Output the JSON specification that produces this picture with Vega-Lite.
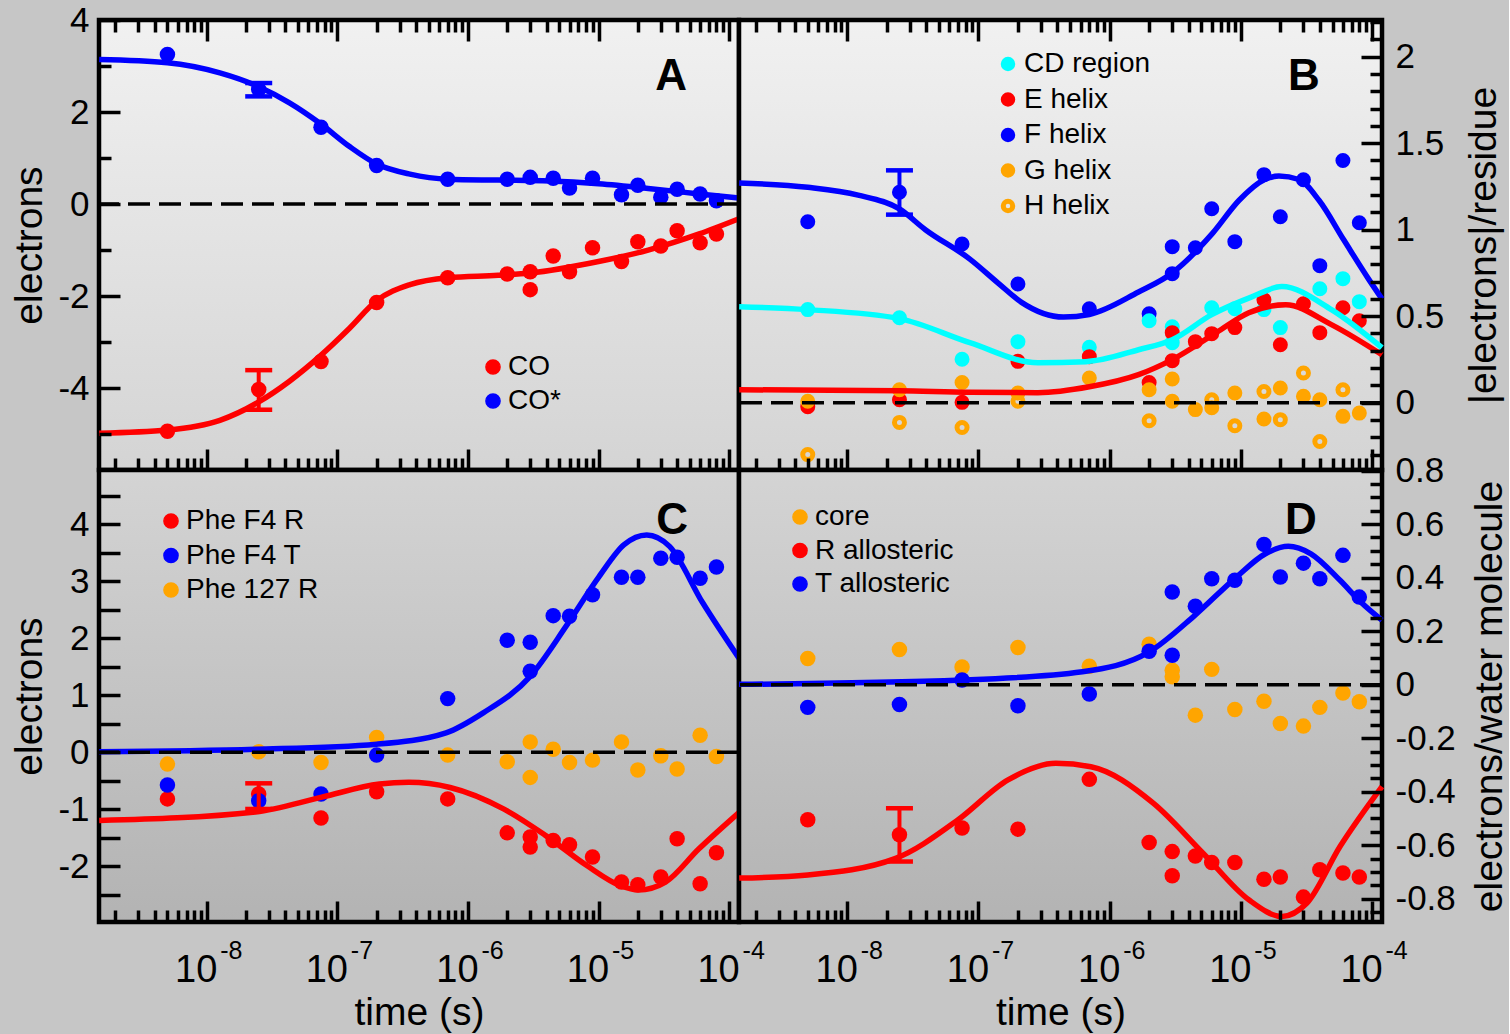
{
"$schema":"https://vega.github.io/schema/vega-lite/v6.json",
"background":"#c6c6c6",
"padding":{"left":10,"top":3,"right":0,"bottom":2},
"config":{"view":{"stroke":null},"font":"Liberation Sans","axis":{"domain":false,"grid":false,"tickColor":"black","tickWidth":3.5,"labelColor":"black","titleColor":"black","titleFontWeight":"normal","labelOverlap":false,"labelFlush":false,"labelBound":false},"legend":{"labelColor":"black"}},
"datasets":{
"A_pts":[
{"t":5e-9,"v":-4.94,"s":"CO"},{"t":2.5e-8,"v":-4.03,"s":"CO"},{"t":7.5e-8,"v":-3.42,"s":"CO"},{"t":2e-7,"v":-2.14,"s":"CO"},{"t":7e-7,"v":-1.6,"s":"CO"},{"t":2e-6,"v":-1.52,"s":"CO"},{"t":3e-6,"v":-1.47,"s":"CO"},{"t":3e-6,"v":-1.86,"s":"CO"},{"t":4.5e-6,"v":-1.13,"s":"CO"},{"t":6e-6,"v":-1.47,"s":"CO"},{"t":9e-6,"v":-0.95,"s":"CO"},{"t":1.5e-5,"v":-1.25,"s":"CO"},{"t":2e-5,"v":-0.82,"s":"CO"},{"t":3e-5,"v":-0.91,"s":"CO"},{"t":4e-5,"v":-0.58,"s":"CO"},{"t":6e-5,"v":-0.84,"s":"CO"},{"t":8e-5,"v":-0.65,"s":"CO"},
{"t":5e-9,"v":3.25,"s":"CO*"},{"t":2.5e-8,"v":2.49,"s":"CO*"},{"t":7.5e-8,"v":1.67,"s":"CO*"},{"t":2e-7,"v":0.84,"s":"CO*"},{"t":7e-7,"v":0.54,"s":"CO*"},{"t":2e-6,"v":0.54,"s":"CO*"},{"t":3e-6,"v":0.58,"s":"CO*"},{"t":4.5e-6,"v":0.56,"s":"CO*"},{"t":6e-6,"v":0.35,"s":"CO*"},{"t":9e-6,"v":0.56,"s":"CO*"},{"t":1.5e-5,"v":0.2,"s":"CO*"},{"t":2e-5,"v":0.41,"s":"CO*"},{"t":3e-5,"v":0.15,"s":"CO*"},{"t":4e-5,"v":0.32,"s":"CO*"},{"t":6e-5,"v":0.22,"s":"CO*"},{"t":8e-5,"v":0.07,"s":"CO*"}],
"A_fit":[
{"t":1.5e-9,"v":3.14,"s":"CO*"},{"t":5e-9,"v":3.07,"s":"CO*"},{"t":1.26e-8,"v":2.85,"s":"CO*"},{"t":2.5e-8,"v":2.55,"s":"CO*"},{"t":4.3e-8,"v":2.2,"s":"CO*"},{"t":7.4e-8,"v":1.75,"s":"CO*"},{"t":1.24e-7,"v":1.25,"s":"CO*"},{"t":2e-7,"v":0.87,"s":"CO*"},{"t":3.6e-7,"v":0.65,"s":"CO*"},{"t":7.1e-7,"v":0.54,"s":"CO*"},{"t":1.7e-6,"v":0.52,"s":"CO*"},{"t":4.2e-6,"v":0.5,"s":"CO*"},{"t":1e-5,"v":0.44,"s":"CO*"},{"t":2.4e-5,"v":0.34,"s":"CO*"},{"t":5.9e-5,"v":0.22,"s":"CO*"},{"t":1.19e-4,"v":0.13,"s":"CO*"},
{"t":1.5e-9,"v":-4.98,"s":"CO"},{"t":5e-9,"v":-4.91,"s":"CO"},{"t":1.26e-8,"v":-4.7,"s":"CO"},{"t":2.5e-8,"v":-4.3,"s":"CO"},{"t":4.3e-8,"v":-3.85,"s":"CO"},{"t":7.4e-8,"v":-3.3,"s":"CO"},{"t":1.24e-7,"v":-2.7,"s":"CO"},{"t":2e-7,"v":-2.1,"s":"CO"},{"t":3.6e-7,"v":-1.75,"s":"CO"},{"t":7.1e-7,"v":-1.6,"s":"CO"},{"t":1.7e-6,"v":-1.55,"s":"CO"},{"t":3e-6,"v":-1.5,"s":"CO"},{"t":1e-5,"v":-1.25,"s":"CO"},{"t":2.4e-5,"v":-1.0,"s":"CO"},{"t":5.9e-5,"v":-0.65,"s":"CO"},{"t":1.19e-4,"v":-0.32,"s":"CO"}],
"A_err":[{"t":2.5e-8,"lo":-4.47,"hi":-3.61,"s":"CO"},{"t":2.5e-8,"lo":2.34,"hi":2.63,"s":"CO*"}],
"B_pts":[
{"t":5e-9,"v":1.046,"s":"F helix"},{"t":2.5e-8,"v":1.216,"s":"F helix"},{"t":7.5e-8,"v":0.917,"s":"F helix"},{"t":2e-7,"v":0.686,"s":"F helix"},{"t":7e-7,"v":0.543,"s":"F helix"},{"t":2e-6,"v":0.514,"s":"F helix"},{"t":3e-6,"v":0.902,"s":"F helix"},{"t":3e-6,"v":0.746,"s":"F helix"},{"t":4.5e-6,"v":0.896,"s":"F helix"},{"t":6e-6,"v":1.121,"s":"F helix"},{"t":9e-6,"v":0.931,"s":"F helix"},{"t":1.5e-5,"v":1.318,"s":"F helix"},{"t":2e-5,"v":1.075,"s":"F helix"},{"t":3e-5,"v":1.289,"s":"F helix"},{"t":4e-5,"v":0.792,"s":"F helix"},{"t":6e-5,"v":1.4,"s":"F helix"},{"t":8e-5,"v":1.04,"s":"F helix"},
{"t":5e-9,"v":0.538,"s":"CD region"},{"t":2.5e-8,"v":0.491,"s":"CD region"},{"t":7.5e-8,"v":0.251,"s":"CD region"},{"t":2e-7,"v":0.353,"s":"CD region"},{"t":7e-7,"v":0.32,"s":"CD region"},{"t":2e-6,"v":0.474,"s":"CD region"},{"t":3e-6,"v":0.439,"s":"CD region"},{"t":3e-6,"v":0.347,"s":"CD region"},{"t":6e-6,"v":0.549,"s":"CD region"},{"t":9e-6,"v":0.543,"s":"CD region"},{"t":1.5e-5,"v":0.538,"s":"CD region"},{"t":2e-5,"v":0.434,"s":"CD region"},{"t":4e-5,"v":0.659,"s":"CD region"},{"t":6e-5,"v":0.717,"s":"CD region"},{"t":8e-5,"v":0.584,"s":"CD region"},
{"t":5e-9,"v":-0.023,"s":"E helix"},{"t":2.5e-8,"v":0.017,"s":"E helix"},{"t":7.5e-8,"v":0.002,"s":"E helix"},{"t":2e-7,"v":0.239,"s":"E helix"},{"t":7e-7,"v":0.266,"s":"E helix"},{"t":2e-6,"v":0.117,"s":"E helix"},{"t":3e-6,"v":0.405,"s":"E helix"},{"t":3e-6,"v":0.243,"s":"E helix"},{"t":4.5e-6,"v":0.353,"s":"E helix"},{"t":6e-6,"v":0.399,"s":"E helix"},{"t":9e-6,"v":0.434,"s":"E helix"},{"t":1.5e-5,"v":0.595,"s":"E helix"},{"t":2e-5,"v":0.335,"s":"E helix"},{"t":3e-5,"v":0.572,"s":"E helix"},{"t":4e-5,"v":0.405,"s":"E helix"},{"t":6e-5,"v":0.549,"s":"E helix"},{"t":8e-5,"v":0.474,"s":"E helix"},
{"t":5e-9,"v":0.008,"s":"G helix"},{"t":2.5e-8,"v":0.075,"s":"G helix"},{"t":7.5e-8,"v":0.117,"s":"G helix"},{"t":2e-7,"v":0.056,"s":"G helix"},{"t":7e-7,"v":0.143,"s":"G helix"},{"t":2e-6,"v":0.075,"s":"G helix"},{"t":3e-6,"v":0.137,"s":"G helix"},{"t":3e-6,"v":0.008,"s":"G helix"},{"t":4.5e-6,"v":-0.04,"s":"G helix"},{"t":6e-6,"v":-0.029,"s":"G helix"},{"t":9e-6,"v":0.056,"s":"G helix"},{"t":1.5e-5,"v":-0.094,"s":"G helix"},{"t":2e-5,"v":0.085,"s":"G helix"},{"t":3e-5,"v":0.037,"s":"G helix"},{"t":4e-5,"v":0.017,"s":"G helix"},{"t":6e-5,"v":-0.079,"s":"G helix"},{"t":8e-5,"v":-0.06,"s":"G helix"},
{"t":5e-9,"v":-0.3,"s":"H helix"},{"t":2.5e-8,"v":-0.114,"s":"H helix"},{"t":7.5e-8,"v":-0.143,"s":"H helix"},{"t":2e-7,"v":0.008,"s":"H helix"},{"t":2e-6,"v":-0.104,"s":"H helix"},{"t":6e-6,"v":0.017,"s":"H helix"},{"t":9e-6,"v":-0.133,"s":"H helix"},{"t":1.5e-5,"v":0.065,"s":"H helix"},{"t":2e-5,"v":-0.098,"s":"H helix"},{"t":3e-5,"v":0.172,"s":"H helix"},{"t":4e-5,"v":-0.224,"s":"H helix"},{"t":6e-5,"v":0.075,"s":"H helix"}],
"B_fit":[
{"t":1.5e-9,"v":1.27,"s":"F helix"},{"t":5e-9,"v":1.245,"s":"F helix"},{"t":1.21e-8,"v":1.2,"s":"F helix"},{"t":2.5e-8,"v":1.12,"s":"F helix"},{"t":3.94e-8,"v":1.0,"s":"F helix"},{"t":8.6e-8,"v":0.83,"s":"F helix"},{"t":1.42e-7,"v":0.69,"s":"F helix"},{"t":2.13e-7,"v":0.58,"s":"F helix"},{"t":4.45e-7,"v":0.495,"s":"F helix"},{"t":7e-7,"v":0.51,"s":"F helix"},{"t":1.66e-6,"v":0.64,"s":"F helix"},{"t":3e-6,"v":0.75,"s":"F helix"},{"t":6.1e-6,"v":0.98,"s":"F helix"},{"t":9.7e-6,"v":1.17,"s":"F helix"},{"t":1.52e-5,"v":1.29,"s":"F helix"},{"t":1.95e-5,"v":1.31,"s":"F helix"},{"t":2.77e-5,"v":1.29,"s":"F helix"},{"t":3.94e-5,"v":1.17,"s":"F helix"},{"t":6.1e-5,"v":0.94,"s":"F helix"},{"t":9.5e-5,"v":0.71,"s":"F helix"},{"t":1.19e-4,"v":0.6,"s":"F helix"},
{"t":1.5e-9,"v":0.555,"s":"CD region"},{"t":5e-9,"v":0.538,"s":"CD region"},{"t":2.5e-8,"v":0.486,"s":"CD region"},{"t":8.6e-8,"v":0.347,"s":"CD region"},{"t":2.84e-7,"v":0.231,"s":"CD region"},{"t":6.6e-7,"v":0.237,"s":"CD region"},{"t":1.66e-6,"v":0.306,"s":"CD region"},{"t":3e-6,"v":0.364,"s":"CD region"},{"t":6e-6,"v":0.509,"s":"CD region"},{"t":1.2e-5,"v":0.61,"s":"CD region"},{"t":2.05e-5,"v":0.671,"s":"CD region"},{"t":4.9e-5,"v":0.538,"s":"CD region"},{"t":1.19e-4,"v":0.318,"s":"CD region"},
{"t":1.5e-9,"v":0.075,"s":"E helix"},{"t":2.5e-8,"v":0.069,"s":"E helix"},{"t":8.6e-8,"v":0.06,"s":"E helix"},{"t":2.84e-7,"v":0.058,"s":"E helix"},{"t":7e-7,"v":0.092,"s":"E helix"},{"t":1.66e-6,"v":0.162,"s":"E helix"},{"t":3e-6,"v":0.249,"s":"E helix"},{"t":6.5e-6,"v":0.405,"s":"E helix"},{"t":1.15e-5,"v":0.52,"s":"E helix"},{"t":2.2e-5,"v":0.566,"s":"E helix"},{"t":4.9e-5,"v":0.451,"s":"E helix"},{"t":1.19e-4,"v":0.277,"s":"E helix"}],
"B_err":[{"t":2.5e-8,"lo":1.087,"hi":1.343}],
"C_pts":[
{"t":5e-9,"v":-0.82,"s":"Phe F4 R"},{"t":2.5e-8,"v":-0.734,"s":"Phe F4 R"},{"t":7.5e-8,"v":-1.154,"s":"Phe F4 R"},{"t":2e-7,"v":-0.694,"s":"Phe F4 R"},{"t":7e-7,"v":-0.82,"s":"Phe F4 R"},{"t":2e-6,"v":-1.416,"s":"Phe F4 R"},{"t":3e-6,"v":-1.49,"s":"Phe F4 R"},{"t":3e-6,"v":-1.666,"s":"Phe F4 R"},{"t":4.5e-6,"v":-1.55,"s":"Phe F4 R"},{"t":6e-6,"v":-1.626,"s":"Phe F4 R"},{"t":9e-6,"v":-1.84,"s":"Phe F4 R"},{"t":1.5e-5,"v":-2.28,"s":"Phe F4 R"},{"t":2e-5,"v":-2.325,"s":"Phe F4 R"},{"t":3e-5,"v":-2.19,"s":"Phe F4 R"},{"t":4e-5,"v":-1.52,"s":"Phe F4 R"},{"t":6e-5,"v":-2.31,"s":"Phe F4 R"},{"t":8e-5,"v":-1.766,"s":"Phe F4 R"},
{"t":5e-9,"v":-0.577,"s":"Phe F4 T"},{"t":2.5e-8,"v":-0.851,"s":"Phe F4 T"},{"t":7.5e-8,"v":-0.734,"s":"Phe F4 T"},{"t":2e-7,"v":-0.052,"s":"Phe F4 T"},{"t":7e-7,"v":0.939,"s":"Phe F4 T"},{"t":2e-6,"v":1.963,"s":"Phe F4 T"},{"t":3e-6,"v":1.929,"s":"Phe F4 T"},{"t":3e-6,"v":1.421,"s":"Phe F4 T"},{"t":4.5e-6,"v":2.395,"s":"Phe F4 T"},{"t":6e-6,"v":2.383,"s":"Phe F4 T"},{"t":9e-6,"v":2.762,"s":"Phe F4 T"},{"t":1.5e-5,"v":3.07,"s":"Phe F4 T"},{"t":2e-5,"v":3.07,"s":"Phe F4 T"},{"t":3e-5,"v":3.4,"s":"Phe F4 T"},{"t":4e-5,"v":3.42,"s":"Phe F4 T"},{"t":6e-5,"v":3.05,"s":"Phe F4 T"},{"t":8e-5,"v":3.25,"s":"Phe F4 T"},
{"t":5e-9,"v":-0.21,"s":"Phe 127 R"},{"t":2.5e-8,"v":0.006,"s":"Phe 127 R"},{"t":7.5e-8,"v":-0.18,"s":"Phe 127 R"},{"t":2e-7,"v":0.257,"s":"Phe 127 R"},{"t":7e-7,"v":-0.052,"s":"Phe 127 R"},{"t":2e-6,"v":-0.17,"s":"Phe 127 R"},{"t":3e-6,"v":0.18,"s":"Phe 127 R"},{"t":3e-6,"v":-0.443,"s":"Phe 127 R"},{"t":4.5e-6,"v":0.052,"s":"Phe 127 R"},{"t":6e-6,"v":-0.18,"s":"Phe 127 R"},{"t":9e-6,"v":-0.14,"s":"Phe 127 R"},{"t":1.5e-5,"v":0.18,"s":"Phe 127 R"},{"t":2e-5,"v":-0.315,"s":"Phe 127 R"},{"t":3e-5,"v":-0.064,"s":"Phe 127 R"},{"t":4e-5,"v":-0.297,"s":"Phe 127 R"},{"t":6e-5,"v":0.297,"s":"Phe 127 R"},{"t":8e-5,"v":-0.076,"s":"Phe 127 R"}],
"C_fit":[
{"t":1.5e-9,"v":0.005,"s":"Phe F4 T"},{"t":2.36e-8,"v":0.05,"s":"Phe F4 T"},{"t":2e-7,"v":0.14,"s":"Phe F4 T"},{"t":6.8e-7,"v":0.34,"s":"Phe F4 T"},{"t":1.31e-6,"v":0.69,"s":"Phe F4 T"},{"t":3e-6,"v":1.33,"s":"Phe F4 T"},{"t":5.65e-6,"v":2.21,"s":"Phe F4 T"},{"t":1.01e-5,"v":3.08,"s":"Phe F4 T"},{"t":1.57e-5,"v":3.64,"s":"Phe F4 T"},{"t":2.34e-5,"v":3.81,"s":"Phe F4 T"},{"t":3.5e-5,"v":3.61,"s":"Phe F4 T"},{"t":6.28e-5,"v":2.62,"s":"Phe F4 T"},{"t":1.19e-4,"v":1.65,"s":"Phe F4 T"},
{"t":1.5e-9,"v":-1.2,"s":"Phe F4 R"},{"t":2.36e-8,"v":-1.05,"s":"Phe F4 R"},{"t":7.6e-8,"v":-0.79,"s":"Phe F4 R"},{"t":2.1e-7,"v":-0.56,"s":"Phe F4 R"},{"t":3.52e-7,"v":-0.53,"s":"Phe F4 R"},{"t":7.3e-7,"v":-0.62,"s":"Phe F4 R"},{"t":1.89e-6,"v":-1.0,"s":"Phe F4 R"},{"t":3.92e-6,"v":-1.46,"s":"Phe F4 R"},{"t":8.13e-6,"v":-1.99,"s":"Phe F4 R"},{"t":1.46e-5,"v":-2.34,"s":"Phe F4 R"},{"t":2.02e-5,"v":-2.42,"s":"Phe F4 R"},{"t":3.26e-5,"v":-2.28,"s":"Phe F4 R"},{"t":5.85e-5,"v":-1.7,"s":"Phe F4 R"},{"t":1.19e-4,"v":-1.06,"s":"Phe F4 R"}],
"C_err":[{"t":2.5e-8,"lo":-0.997,"hi":-0.547}],
"D_pts":[
{"t":5e-9,"v":0.098,"s":"core"},{"t":2.5e-8,"v":0.131,"s":"core"},{"t":7.5e-8,"v":0.066,"s":"core"},{"t":2e-7,"v":0.139,"s":"core"},{"t":7e-7,"v":0.069,"s":"core"},{"t":2e-6,"v":0.151,"s":"core"},{"t":3e-6,"v":0.054,"s":"core"},{"t":3e-6,"v":0.029,"s":"core"},{"t":4.5e-6,"v":-0.114,"s":"core"},{"t":6e-6,"v":0.057,"s":"core"},{"t":9e-6,"v":-0.093,"s":"core"},{"t":1.5e-5,"v":-0.062,"s":"core"},{"t":2e-5,"v":-0.145,"s":"core"},{"t":3e-5,"v":-0.155,"s":"core"},{"t":4e-5,"v":-0.085,"s":"core"},{"t":6e-5,"v":-0.031,"s":"core"},{"t":8e-5,"v":-0.064,"s":"core"},
{"t":5e-9,"v":-0.505,"s":"R allosteric"},{"t":2.5e-8,"v":-0.561,"s":"R allosteric"},{"t":7.5e-8,"v":-0.536,"s":"R allosteric"},{"t":2e-7,"v":-0.54,"s":"R allosteric"},{"t":7e-7,"v":-0.354,"s":"R allosteric"},{"t":2e-6,"v":-0.59,"s":"R allosteric"},{"t":3e-6,"v":-0.624,"s":"R allosteric"},{"t":3e-6,"v":-0.714,"s":"R allosteric"},{"t":4.5e-6,"v":-0.64,"s":"R allosteric"},{"t":6e-6,"v":-0.665,"s":"R allosteric"},{"t":9e-6,"v":-0.665,"s":"R allosteric"},{"t":1.5e-5,"v":-0.727,"s":"R allosteric"},{"t":2e-5,"v":-0.719,"s":"R allosteric"},{"t":3e-5,"v":-0.794,"s":"R allosteric"},{"t":4e-5,"v":-0.692,"s":"R allosteric"},{"t":6e-5,"v":-0.704,"s":"R allosteric"},{"t":8e-5,"v":-0.719,"s":"R allosteric"},
{"t":5e-9,"v":-0.085,"s":"T allosteric"},{"t":2.5e-8,"v":-0.074,"s":"T allosteric"},{"t":7.5e-8,"v":0.017,"s":"T allosteric"},{"t":2e-7,"v":-0.079,"s":"T allosteric"},{"t":7e-7,"v":-0.035,"s":"T allosteric"},{"t":2e-6,"v":0.125,"s":"T allosteric"},{"t":3e-6,"v":0.346,"s":"T allosteric"},{"t":3e-6,"v":0.11,"s":"T allosteric"},{"t":4.5e-6,"v":0.293,"s":"T allosteric"},{"t":6e-6,"v":0.396,"s":"T allosteric"},{"t":9e-6,"v":0.39,"s":"T allosteric"},{"t":1.5e-5,"v":0.524,"s":"T allosteric"},{"t":2e-5,"v":0.402,"s":"T allosteric"},{"t":3e-5,"v":0.454,"s":"T allosteric"},{"t":4e-5,"v":0.396,"s":"T allosteric"},{"t":6e-5,"v":0.483,"s":"T allosteric"},{"t":8e-5,"v":0.327,"s":"T allosteric"}],
"D_fit":[
{"t":1.5e-9,"v":0.001,"s":"T allosteric"},{"t":7.5e-8,"v":0.017,"s":"T allosteric"},{"t":6.2e-7,"v":0.048,"s":"T allosteric"},{"t":2e-6,"v":0.122,"s":"T allosteric"},{"t":4.46e-6,"v":0.259,"s":"T allosteric"},{"t":9.25e-6,"v":0.402,"s":"T allosteric"},{"t":1.54e-5,"v":0.489,"s":"T allosteric"},{"t":2.3e-5,"v":0.517,"s":"T allosteric"},{"t":3.42e-5,"v":0.489,"s":"T allosteric"},{"t":5.7e-5,"v":0.39,"s":"T allosteric"},{"t":8.2e-5,"v":0.309,"s":"T allosteric"},{"t":1.19e-4,"v":0.241,"s":"T allosteric"},
{"t":1.5e-9,"v":-0.723,"s":"R allosteric"},{"t":5e-9,"v":-0.711,"s":"R allosteric"},{"t":2.34e-8,"v":-0.649,"s":"R allosteric"},{"t":7e-8,"v":-0.505,"s":"R allosteric"},{"t":1.68e-7,"v":-0.356,"s":"R allosteric"},{"t":3.89e-7,"v":-0.294,"s":"R allosteric"},{"t":7.2e-7,"v":-0.307,"s":"R allosteric"},{"t":2.15e-6,"v":-0.443,"s":"R allosteric"},{"t":5.15e-6,"v":-0.63,"s":"R allosteric"},{"t":1.15e-5,"v":-0.804,"s":"R allosteric"},{"t":2.06e-5,"v":-0.866,"s":"R allosteric"},{"t":3.19e-5,"v":-0.816,"s":"R allosteric"},{"t":5.7e-5,"v":-0.605,"s":"R allosteric"},{"t":1.19e-4,"v":-0.381,"s":"R allosteric"}],
"D_err":[{"t":2.5e-8,"lo":-0.661,"hi":-0.462}]
},
"columns":2,
"spacing":0,
"bounds":"flush",
"resolve":{"scale":{"color":"independent","fill":"independent","stroke":"independent"}},
"concat":[
{"width":640,"height":450,"data":{"values":[{}]},
"resolve":{"axis":{"x":"independent","y":"independent"}},
"layer":[
{"mark":{"type":"rect","fill":{"gradient":"linear","x1":0,"y1":0,"x2":0,"y2":1,"stops":[{"offset":0,"color":"#f1f1f1"},{"offset":1,"color":"#d4d4d4"}]},"stroke":"black","strokeWidth":4.5},
"encoding":{"x":{"datum":1.496e-9,"type":"quantitative","scale":{"type":"log","domain":[1.496e-9,1.191e-4],"nice":false},"axis":{"orient":"bottom","values":[1e-8,1e-7,1e-6,1e-5,1e-4],"tickSize":-21,"labels":false,"title":null,"zindex":1}},"x2":{"datum":1.191e-4},
"y":{"datum":-5.78,"type":"quantitative","scale":{"domain":[-5.78,4],"nice":false,"zero":false},"axis":{"orient":"left","values":[-4,-2,0,2,4],"ticks":false,"labelExpr":"'' + datum.value","labelFontSize":35,"labelPadding":10,"title":"electrons","titleFontSize":39,"titleX":-70,"titleY":225,"titleAngle":270,"titleBaseline":"middle","titleAlign":"center","zindex":1}},"y2":{"datum":4}}},
{"data":{"name":"A_pts"},"mark":{"type":"point","filled":true,"size":240,"opacity":1,"shape":"circle"},
"encoding":{"x":{"field":"t","type":"quantitative","scale":{"type":"log","domain":[1.496e-9,1.191e-4],"nice":false},"axis":{"orient":"bottom","values":[2e-9,3e-9,4e-9,5e-9,6e-9,7e-9,8e-9,9e-9,2e-8,3e-8,4e-8,5e-8,6e-8,7e-8,8e-8,9e-8,2e-7,3e-7,4e-7,5e-7,6e-7,7e-7,8e-7,9e-7,2e-6,3e-6,4e-6,5e-6,6e-6,7e-6,8e-6,9e-6,2e-5,3e-5,4e-5,5e-5,6e-5,7e-5,8e-5,9e-5],"tickSize":-12,"labels":false,"title":null,"zindex":1}},
"y":{"field":"v","type":"quantitative","scale":{"domain":[-5.78,4],"nice":false,"zero":false},"axis":{"orient":"left","values":[-4,-2,0,2,4],"tickSize":-21,"labels":false,"title":null,"zindex":1}},
"color":{"field":"s","type":"nominal","scale":{"domain":["CO","CO*"],"range":["#ff0000","#0000ff"]},"legend":{"title":null,"orient":"none","legendX":380,"legendY":333,"labelFontSize":28,"symbolSize":200,"rowPadding":6,"labelOffset":1,"padding":0,"symbolType":"circle","symbolOpacity":1}}}},
{"data":{"name":"A_fit"},"mark":{"type":"line","interpolate":"monotone","strokeWidth":5.5},
"encoding":{"x":{"field":"t","type":"quantitative","scale":{"type":"log","domain":[1.496e-9,1.191e-4],"nice":false},"axis":{"orient":"top","values":[1e-8,1e-7,1e-6,1e-5,1e-4],"tickSize":-21,"labels":false,"title":null,"zindex":1}},
"y":{"field":"v","type":"quantitative","scale":{"domain":[-5.78,4],"nice":false,"zero":false},"axis":{"orient":"left","values":[-5,-3,-1,1,3],"tickSize":-12,"labels":false,"title":null,"zindex":1}},
"stroke":{"field":"s","type":"nominal","scale":{"domain":["CO","CO*"],"range":["#ff0000","#0000ff"]},"legend":null}}},
{"mark":{"type":"rule","color":"black","strokeWidth":3.5,"strokeDash":[22,9]},"encoding":{"y":{"datum":0,"type":"quantitative","scale":{"domain":[-5.78,4],"nice":false,"zero":false},"axis":null}}},
{"data":{"name":"A_err"},"mark":{"type":"rule","strokeWidth":4},
"encoding":{"x":{"field":"t","type":"quantitative","scale":{"type":"log","domain":[1.496e-9,1.191e-4],"nice":false},"axis":{"orient":"top","values":[2e-9,3e-9,4e-9,5e-9,6e-9,7e-9,8e-9,9e-9,2e-8,3e-8,4e-8,5e-8,6e-8,7e-8,8e-8,9e-8,2e-7,3e-7,4e-7,5e-7,6e-7,7e-7,8e-7,9e-7,2e-6,3e-6,4e-6,5e-6,6e-6,7e-6,8e-6,9e-6,2e-5,3e-5,4e-5,5e-5,6e-5,7e-5,8e-5,9e-5],"tickSize":-12,"labels":false,"title":null,"zindex":1}},
"y":{"field":"lo","type":"quantitative","scale":{"domain":[-5.78,4],"nice":false,"zero":false},"axis":null},"y2":{"field":"hi"},
"stroke":{"field":"s","type":"nominal","scale":{"domain":["CO","CO*"],"range":["#ff0000","#0000ff"]},"legend":null}}},
{"data":{"name":"A_err"},"transform":[{"fold":["lo","hi"],"as":["k","e"]}],"mark":{"type":"tick","orient":"horizontal","size":27,"thickness":4.5,"opacity":1},
"encoding":{"x":{"field":"t","type":"quantitative","scale":{"type":"log","domain":[1.496e-9,1.191e-4],"nice":false},"axis":null},
"y":{"field":"e","type":"quantitative","scale":{"domain":[-5.78,4],"nice":false,"zero":false},"axis":null},
"fill":{"field":"s","type":"nominal","scale":{"domain":["CO","CO*"],"range":["#ff0000","#0000ff"]},"legend":null}}},
{"mark":{"type":"text","text":"A","fontSize":44,"fontWeight":"bold","align":"center","baseline":"middle","color":"black"},
"encoding":{"x":{"datum":3.6e-5,"type":"quantitative","scale":{"type":"log","domain":[1.496e-9,1.191e-4],"nice":false},"axis":null},"y":{"datum":2.76,"type":"quantitative","scale":{"domain":[-5.78,4],"nice":false,"zero":false},"axis":null}}}
]},
{"width":643,"height":450,"data":{"values":[{}]},
"resolve":{"axis":{"x":"independent","y":"independent"}},
"layer":[
{"mark":{"type":"rect","fill":{"gradient":"linear","x1":0,"y1":0,"x2":0,"y2":1,"stops":[{"offset":0,"color":"#f1f1f1"},{"offset":1,"color":"#d4d4d4"}]},"stroke":"black","strokeWidth":4.5},
"encoding":{"x":{"datum":1.496e-9,"type":"quantitative","scale":{"type":"log","domain":[1.496e-9,1.191e-4],"nice":false},"axis":{"orient":"bottom","values":[1e-8,1e-7,1e-6,1e-5,1e-4],"tickSize":-21,"labels":false,"title":null,"zindex":1}},"x2":{"datum":1.191e-4},
"y":{"datum":-0.389,"type":"quantitative","scale":{"domain":[-0.389,2.212],"nice":false,"zero":false},"axis":{"orient":"right","values":[0,0.5,1,1.5,2],"tickSize":-21,"labels":false,"title":null,"zindex":1}},"y2":{"datum":2.212}}},
{"data":{"name":"B_pts"},"mark":{"type":"point","size":100,"strokeWidth":5,"opacity":1,"shape":"circle"},
"encoding":{"x":{"field":"t","type":"quantitative","scale":{"type":"log","domain":[1.496e-9,1.191e-4],"nice":false},"axis":{"orient":"bottom","values":[2e-9,3e-9,4e-9,5e-9,6e-9,7e-9,8e-9,9e-9,2e-8,3e-8,4e-8,5e-8,6e-8,7e-8,8e-8,9e-8,2e-7,3e-7,4e-7,5e-7,6e-7,7e-7,8e-7,9e-7,2e-6,3e-6,4e-6,5e-6,6e-6,7e-6,8e-6,9e-6,2e-5,3e-5,4e-5,5e-5,6e-5,7e-5,8e-5,9e-5],"tickSize":-12,"labels":false,"title":null,"zindex":1}},
"y":{"field":"v","type":"quantitative","scale":{"domain":[-0.389,2.212],"nice":false,"zero":false},"axis":{"orient":"right","values":[-0.3,-0.2,-0.1,0.1,0.2,0.3,0.4,0.6,0.7,0.8,0.9,1.1,1.2,1.3,1.4,1.6,1.7,1.8,1.9,2.1,2.2],"tickSize":-12,"labels":false,"title":null,"zindex":1}},
"fill":{"field":"s","type":"nominal","scale":{"domain":["CD region","E helix","F helix","G helix","H helix"],"range":["#00ffff","#ff0000","#0000ff","#ffa500","transparent"]},"legend":{"title":null,"orient":"none","legendX":255,"legendY":30,"labelFontSize":28,"symbolSize":90,"symbolStrokeWidth":5,"rowPadding":5.5,"labelOffset":2,"padding":0,"symbolType":"circle","symbolOpacity":1}},
"stroke":{"field":"s","type":"nominal","scale":{"domain":["CD region","E helix","F helix","G helix","H helix"],"range":["#00ffff","#ff0000","#0000ff","#ffa500","#ffa500"]},"legend":{"title":null,"orient":"none","legendX":255,"legendY":30,"labelFontSize":28,"symbolSize":90,"symbolStrokeWidth":5,"rowPadding":5.5,"labelOffset":2,"padding":0,"symbolType":"circle","symbolOpacity":1}}}},
{"data":{"name":"B_fit"},"mark":{"type":"line","interpolate":"monotone","strokeWidth":5.5},
"encoding":{"x":{"field":"t","type":"quantitative","scale":{"type":"log","domain":[1.496e-9,1.191e-4],"nice":false},"axis":{"orient":"top","values":[1e-8,1e-7,1e-6,1e-5,1e-4],"tickSize":-21,"labels":false,"title":null,"zindex":1}},
"y":{"field":"v","type":"quantitative","scale":{"domain":[-0.389,2.212],"nice":false,"zero":false},"axis":{"orient":"right","values":[0,0.5,1,1.5,2],"ticks":false,"labelExpr":"'' + datum.value","labelFontSize":35,"labelPadding":13,"labelAlign":"left","title":"|electrons|/residue","titleFontSize":39,"titleX":101,"titleY":225,"titleAngle":270,"titleBaseline":"middle","titleAlign":"center","zindex":1}},
"color":{"field":"s","type":"nominal","scale":{"domain":["CD region","E helix","F helix"],"range":["#00ffff","#ff0000","#0000ff"]},"legend":null}}},
{"mark":{"type":"rule","color":"black","strokeWidth":3.5,"strokeDash":[22,9]},"encoding":{"y":{"datum":0,"type":"quantitative","scale":{"domain":[-0.389,2.212],"nice":false,"zero":false},"axis":null}}},
{"data":{"name":"B_err"},"mark":{"type":"rule","strokeWidth":4,"color":"#0000ff"},
"encoding":{"x":{"field":"t","type":"quantitative","scale":{"type":"log","domain":[1.496e-9,1.191e-4],"nice":false},"axis":{"orient":"top","values":[2e-9,3e-9,4e-9,5e-9,6e-9,7e-9,8e-9,9e-9,2e-8,3e-8,4e-8,5e-8,6e-8,7e-8,8e-8,9e-8,2e-7,3e-7,4e-7,5e-7,6e-7,7e-7,8e-7,9e-7,2e-6,3e-6,4e-6,5e-6,6e-6,7e-6,8e-6,9e-6,2e-5,3e-5,4e-5,5e-5,6e-5,7e-5,8e-5,9e-5],"tickSize":-12,"labels":false,"title":null,"zindex":1}},
"y":{"field":"lo","type":"quantitative","scale":{"domain":[-0.389,2.212],"nice":false,"zero":false},"axis":null},"y2":{"field":"hi"}}},
{"data":{"name":"B_err"},"transform":[{"fold":["lo","hi"],"as":["k","e"]}],"mark":{"type":"tick","orient":"horizontal","size":27,"thickness":4.5,"opacity":1,"color":"#0000ff"},
"encoding":{"x":{"field":"t","type":"quantitative","scale":{"type":"log","domain":[1.496e-9,1.191e-4],"nice":false},"axis":null},
"y":{"field":"e","type":"quantitative","scale":{"domain":[-0.389,2.212],"nice":false,"zero":false},"axis":null}}},
{"mark":{"type":"text","text":"B","fontSize":44,"fontWeight":"bold","align":"center","baseline":"middle","color":"black"},
"encoding":{"x":{"datum":3.03e-5,"type":"quantitative","scale":{"type":"log","domain":[1.496e-9,1.191e-4],"nice":false},"axis":null},"y":{"datum":1.883,"type":"quantitative","scale":{"domain":[-0.389,2.212],"nice":false,"zero":false},"axis":null}}}
]},
{"width":640,"height":452,"data":{"values":[{}]},
"resolve":{"axis":{"x":"independent","y":"independent"}},
"layer":[
{"mark":{"type":"rect","fill":{"gradient":"linear","x1":0,"y1":0,"x2":0,"y2":1,"stops":[{"offset":0,"color":"#d4d4d4"},{"offset":1,"color":"#b3b3b3"}]},"stroke":"black","strokeWidth":4.5},
"encoding":{"x":{"datum":1.496e-9,"type":"quantitative","scale":{"type":"log","domain":[1.496e-9,1.191e-4],"nice":false},"axis":{"orient":"bottom","values":[1e-8,1e-7,1e-6,1e-5,1e-4],"tickSize":-21,"labels":false,"title":null,"zindex":1}},"x2":{"datum":1.191e-4},
"y":{"datum":-2.98,"type":"quantitative","scale":{"domain":[-2.98,4.95],"nice":false,"zero":false},"axis":{"orient":"left","values":[-3,-2.5,-2,-1.5,-1,-0.5,0,0.5,1,1.5,2,2.5,3,3.5,4,4.5],"tickSize":-21,"labels":false,"title":null,"zindex":1}},"y2":{"datum":4.95}}},
{"data":{"name":"C_pts"},"mark":{"type":"point","filled":true,"size":240,"opacity":1,"shape":"circle"},
"encoding":{"x":{"field":"t","type":"quantitative","scale":{"type":"log","domain":[1.496e-9,1.191e-4],"nice":false},"axis":{"orient":"bottom","values":[2e-9,3e-9,4e-9,5e-9,6e-9,7e-9,8e-9,9e-9,2e-8,3e-8,4e-8,5e-8,6e-8,7e-8,8e-8,9e-8,2e-7,3e-7,4e-7,5e-7,6e-7,7e-7,8e-7,9e-7,2e-6,3e-6,4e-6,5e-6,6e-6,7e-6,8e-6,9e-6,2e-5,3e-5,4e-5,5e-5,6e-5,7e-5,8e-5,9e-5],"tickSize":-12,"labels":false,"title":null,"zindex":1}},
"y":{"field":"v","type":"quantitative","scale":{"domain":[-2.98,4.95],"nice":false,"zero":false},"axis":{"orient":"left","values":[-3,-2,-1,0,1,2,3,4],"ticks":false,"labelExpr":"'' + datum.value","labelFontSize":35,"labelPadding":10,"title":"electrons","titleFontSize":39,"titleX":-70,"titleY":226,"titleAngle":270,"titleBaseline":"middle","titleAlign":"center","zindex":1}},
"color":{"field":"s","type":"nominal","scale":{"domain":["Phe F4 R","Phe F4 T","Phe 127 R"],"range":["#ff0000","#0000ff","#ffa500"]},"legend":{"title":null,"orient":"none","legendX":58,"legendY":37,"labelFontSize":28,"symbolSize":200,"rowPadding":6.5,"labelOffset":1,"padding":0,"symbolType":"circle","symbolOpacity":1}}}},
{"data":{"name":"C_fit"},"mark":{"type":"line","interpolate":"monotone","strokeWidth":5.5},
"encoding":{"x":{"field":"t","type":"quantitative","scale":{"type":"log","domain":[1.496e-9,1.191e-4],"nice":false},"axis":{"orient":"bottom","values":[1e-8,1e-7,1e-6,1e-5,1e-4],"ticks":false,"labelExpr":"'10'","labelFontSize":38,"labelPadding":29,"labelOffset":-11,"labelAlign":"center","labelBaseline":"top","title":"time (s)","titleFontSize":39,"titleY":90,"titleBaseline":"middle","zindex":1}},
"y":{"field":"v","type":"quantitative","scale":{"domain":[-2.98,4.95],"nice":false,"zero":false},"axis":null},
"stroke":{"field":"s","type":"nominal","scale":{"domain":["Phe F4 R","Phe F4 T","Phe 127 R"],"range":["#ff0000","#0000ff","#ffa500"]},"legend":null}}},
{"mark":{"type":"rule","color":"black","strokeWidth":3.5,"strokeDash":[22,9]},"encoding":{"y":{"datum":0,"type":"quantitative","scale":{"domain":[-2.98,4.95],"nice":false,"zero":false},"axis":null}}},
{"data":{"name":"C_err"},"mark":{"type":"rule","strokeWidth":4,"color":"#ff0000"},
"encoding":{"x":{"field":"t","type":"quantitative","scale":{"type":"log","domain":[1.496e-9,1.191e-4],"nice":false},"axis":{"orient":"bottom","values":[1e-8,1e-7,1e-6,1e-5,1e-4],"ticks":false,"labelExpr":"'-' + round(-log(datum.value)/LN10)","labelFontSize":25,"labelPadding":16,"labelOffset":13,"labelAlign":"left","labelBaseline":"top","title":null,"zindex":1}},
"y":{"field":"lo","type":"quantitative","scale":{"domain":[-2.98,4.95],"nice":false,"zero":false},"axis":null},"y2":{"field":"hi"}}},
{"data":{"name":"C_err"},"transform":[{"fold":["lo","hi"],"as":["k","e"]}],"mark":{"type":"tick","orient":"horizontal","size":27,"thickness":4.5,"opacity":1,"color":"#ff0000"},
"encoding":{"x":{"field":"t","type":"quantitative","scale":{"type":"log","domain":[1.496e-9,1.191e-4],"nice":false},"axis":null},
"y":{"field":"e","type":"quantitative","scale":{"domain":[-2.98,4.95],"nice":false,"zero":false},"axis":null}}},
{"mark":{"type":"text","text":"C","fontSize":44,"fontWeight":"bold","align":"center","baseline":"middle","color":"black"},
"encoding":{"x":{"datum":3.66e-5,"type":"quantitative","scale":{"type":"log","domain":[1.496e-9,1.191e-4],"nice":false},"axis":null},"y":{"datum":4.05,"type":"quantitative","scale":{"domain":[-2.98,4.95],"nice":false,"zero":false},"axis":null}}}
]},
{"width":643,"height":452,"data":{"values":[{}]},
"resolve":{"axis":{"x":"independent","y":"independent"}},
"layer":[
{"mark":{"type":"rect","fill":{"gradient":"linear","x1":0,"y1":0,"x2":0,"y2":1,"stops":[{"offset":0,"color":"#d4d4d4"},{"offset":1,"color":"#b3b3b3"}]},"stroke":"black","strokeWidth":4.5},
"encoding":{"x":{"datum":1.496e-9,"type":"quantitative","scale":{"type":"log","domain":[1.496e-9,1.191e-4],"nice":false},"axis":{"orient":"bottom","values":[1e-8,1e-7,1e-6,1e-5,1e-4],"tickSize":-21,"labels":false,"title":null,"zindex":1}},"x2":{"datum":1.191e-4},
"y":{"datum":-0.887,"type":"quantitative","scale":{"domain":[-0.887,0.802],"nice":false,"zero":false},"axis":{"orient":"right","values":[-0.8,-0.6,-0.4,-0.2,0,0.2,0.4,0.6,0.8],"tickSize":-21,"labels":false,"title":null,"zindex":1}},"y2":{"datum":0.802}}},
{"data":{"name":"D_pts"},"mark":{"type":"point","filled":true,"size":240,"opacity":1,"shape":"circle"},
"encoding":{"x":{"field":"t","type":"quantitative","scale":{"type":"log","domain":[1.496e-9,1.191e-4],"nice":false},"axis":{"orient":"bottom","values":[2e-9,3e-9,4e-9,5e-9,6e-9,7e-9,8e-9,9e-9,2e-8,3e-8,4e-8,5e-8,6e-8,7e-8,8e-8,9e-8,2e-7,3e-7,4e-7,5e-7,6e-7,7e-7,8e-7,9e-7,2e-6,3e-6,4e-6,5e-6,6e-6,7e-6,8e-6,9e-6,2e-5,3e-5,4e-5,5e-5,6e-5,7e-5,8e-5,9e-5],"tickSize":-12,"labels":false,"title":null,"zindex":1}},
"y":{"field":"v","type":"quantitative","scale":{"domain":[-0.887,0.802],"nice":false,"zero":false},"axis":{"orient":"right","values":[-0.85,-0.75,-0.7,-0.65,-0.55,-0.5,-0.45,-0.35,-0.3,-0.25,-0.15,-0.1,-0.05,0.05,0.1,0.15,0.25,0.3,0.35,0.45,0.5,0.55,0.65,0.7,0.75],"tickSize":-12,"labels":false,"title":null,"zindex":1}},
"color":{"field":"s","type":"nominal","scale":{"domain":["core","R allosteric","T allosteric"],"range":["#ffa500","#ff0000","#0000ff"]},"legend":{"title":null,"orient":"none","legendX":47,"legendY":33,"labelFontSize":28,"symbolSize":200,"rowPadding":5.5,"labelOffset":1,"padding":0,"symbolType":"circle","symbolOpacity":1}}}},
{"data":{"name":"D_fit"},"mark":{"type":"line","interpolate":"monotone","strokeWidth":5.5},
"encoding":{"x":{"field":"t","type":"quantitative","scale":{"type":"log","domain":[1.496e-9,1.191e-4],"nice":false},"axis":{"orient":"bottom","values":[1e-8,1e-7,1e-6,1e-5,1e-4],"ticks":false,"labelExpr":"'10'","labelFontSize":38,"labelPadding":29,"labelOffset":-11,"labelAlign":"center","labelBaseline":"top","title":"time (s)","titleFontSize":39,"titleY":90,"titleBaseline":"middle","zindex":1}},
"y":{"field":"v","type":"quantitative","scale":{"domain":[-0.887,0.802],"nice":false,"zero":false},"axis":{"orient":"right","values":[-0.8,-0.6,-0.4,-0.2,0,0.2,0.4,0.6,0.8],"ticks":false,"labelExpr":"'' + datum.value","labelFontSize":35,"labelPadding":13,"labelAlign":"left","title":"electrons/water molecule","titleFontSize":39,"titleX":107,"titleY":226,"titleAngle":270,"titleBaseline":"middle","titleAlign":"center","zindex":1}},
"stroke":{"field":"s","type":"nominal","scale":{"domain":["core","R allosteric","T allosteric"],"range":["#ffa500","#ff0000","#0000ff"]},"legend":null}}},
{"mark":{"type":"rule","color":"black","strokeWidth":3.5,"strokeDash":[22,9]},"encoding":{"y":{"datum":0,"type":"quantitative","scale":{"domain":[-0.887,0.802],"nice":false,"zero":false},"axis":null}}},
{"data":{"name":"D_err"},"mark":{"type":"rule","strokeWidth":4,"color":"#ff0000"},
"encoding":{"x":{"field":"t","type":"quantitative","scale":{"type":"log","domain":[1.496e-9,1.191e-4],"nice":false},"axis":{"orient":"bottom","values":[1e-8,1e-7,1e-6,1e-5,1e-4],"ticks":false,"labelExpr":"'-' + round(-log(datum.value)/LN10)","labelFontSize":25,"labelPadding":16,"labelOffset":13,"labelAlign":"left","labelBaseline":"top","title":null,"zindex":1}},
"y":{"field":"lo","type":"quantitative","scale":{"domain":[-0.887,0.802],"nice":false,"zero":false},"axis":null},"y2":{"field":"hi"}}},
{"data":{"name":"D_err"},"transform":[{"fold":["lo","hi"],"as":["k","e"]}],"mark":{"type":"tick","orient":"horizontal","size":27,"thickness":4.5,"opacity":1,"color":"#ff0000"},
"encoding":{"x":{"field":"t","type":"quantitative","scale":{"type":"log","domain":[1.496e-9,1.191e-4],"nice":false},"axis":null},
"y":{"field":"e","type":"quantitative","scale":{"domain":[-0.887,0.802],"nice":false,"zero":false},"axis":null}}},
{"mark":{"type":"text","text":"D","fontSize":44,"fontWeight":"bold","align":"center","baseline":"middle","color":"black"},
"encoding":{"x":{"datum":2.87e-5,"type":"quantitative","scale":{"type":"log","domain":[1.496e-9,1.191e-4],"nice":false},"axis":null},"y":{"datum":0.612,"type":"quantitative","scale":{"domain":[-0.887,0.802],"nice":false,"zero":false},"axis":null}}}
]}
]
}
